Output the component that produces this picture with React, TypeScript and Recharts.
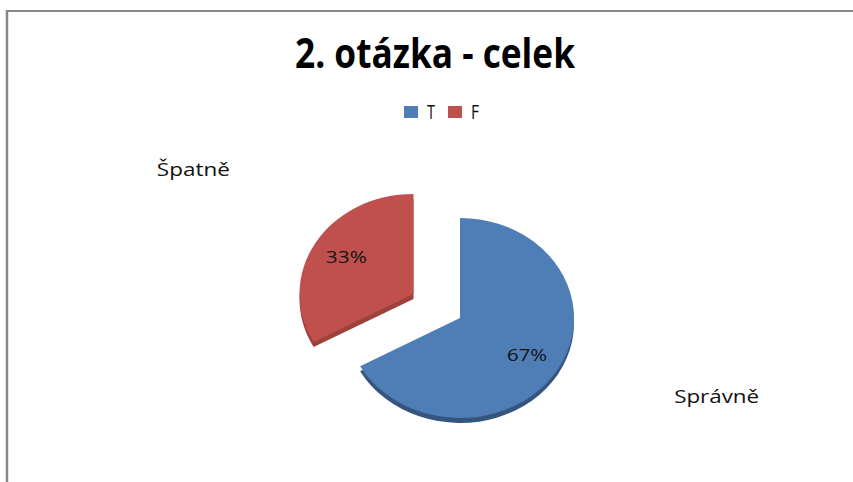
import React from 'react';
import { PieChart, Pie, Sector } from 'recharts';

// ---- data ----
const categories = ['T', 'F'];
const values = [67, 33];
const sliceNames = ['Správně', 'Špatně'];
const chartTitle = '2. otázka - celek';

// ---- style ----
const colors = ['#4F7EB7', '#BF504D'];
const rimColors = ['#34557E', '#9E403C'];
const W = 853;
const H = 482;
const CX = 460;
const CY = 318;
const R = 114;
const SY = 100 / 114;
const DEPTH = 5;
const EXPLODE = [0, 54];
const RAD = Math.PI / 180;
const FONT = '"Open Sans", "Noto Sans", sans-serif';
const PCT_WIDTH = [40, 41];
const NAME_WIDTH = [85, 73];
const OUTER_NUDGE = [
  { dx: -5, dy: -57 },
  { dx: -5, dy: -12 },
];

const data = categories.map((c, i) => ({ name: c, value: values[i] }));

const idxOf = (p: any) => {
  const n = p?.payload?.name ?? p?.name;
  const i = categories.indexOf(n);
  return i < 0 ? (p?.index ?? 0) : i;
};

const offsetFor = (i: number, midAngle: number) => {
  const e = EXPLODE[i] || 0;
  return {
    ox: e * Math.cos(-midAngle * RAD),
    oy: e * Math.sin(-midAngle * RAD) * SY,
  };
};

const SliceShape = (props: any) => {
  const { cx, cy, innerRadius, outerRadius, startAngle, endAngle, midAngle } = props;
  const i = idxOf(props);
  const { ox, oy } = offsetFor(i, midAngle);
  const tf = (dy: number) =>
    `translate(${cx + ox} ${cy + oy + dy}) scale(1 ${SY}) translate(${-cx} ${-cy})`;
  return (
    <g>
      <g transform={tf(DEPTH)}>
        <Sector cx={cx} cy={cy} innerRadius={innerRadius} outerRadius={outerRadius}
          startAngle={startAngle} endAngle={endAngle} fill={rimColors[i]} stroke="none" />
      </g>
      <g transform={tf(0)}>
        <Sector cx={cx} cy={cy} innerRadius={innerRadius} outerRadius={outerRadius}
          startAngle={startAngle} endAngle={endAngle} fill={colors[i]} stroke="none" />
      </g>
    </g>
  );
};

const renderLabel = (p: any) => {
  const i = idxOf(p);
  const { ox, oy } = offsetFor(i, p.midAngle);
  const cos = Math.cos(-p.midAngle * RAD);
  const sin = Math.sin(-p.midAngle * RAD);
  const ix = p.cx + ox + cos * 78;
  const iy = p.cy + oy + sin * 78 * 0.93;
  const nx = p.cx + cos * 304 + OUTER_NUDGE[i].dx;
  const ny = p.cy + sin * 304 * SY + OUTER_NUDGE[i].dy;
  return (
    <g>
      <text x={ix} y={iy + 6} textAnchor="middle" fontFamily={FONT} fontSize={17}
        fill="#111" textLength={PCT_WIDTH[i]} lengthAdjust="spacingAndGlyphs">
        {`${Math.round(p.percent * 100)}%`}
      </text>
      <text x={nx} y={ny + 6} textAnchor="middle" fontFamily={FONT} fontSize={18}
        fill="#111" textLength={NAME_WIDTH[i]} lengthAdjust="spacingAndGlyphs">
        {sliceNames[i]}
      </text>
    </g>
  );
};

export default function App() {
  return (
    <div style={{ position: 'absolute', left: 0, top: 0, width: W, height: H, background: '#fff' }}>
      <PieChart width={W} height={H} margin={{ top: 0, right: 0, bottom: 0, left: 0 }}>
        <Pie
          data={data}
          dataKey="value"
          nameKey="name"
          cx={CX}
          cy={CY}
          outerRadius={R}
          startAngle={90}
          endAngle={-270}
          stroke="none"
          isAnimationActive={false}
          shape={SliceShape}
          activeShape={SliceShape}
          inactiveShape={SliceShape}
          label={renderLabel}
          labelLine={false}
        />
      </PieChart>
      <svg width={W} height={H} style={{ position: 'absolute', left: 0, top: 0, pointerEvents: 'none' }}>
        <line x1={6} y1={11} x2={W} y2={11} stroke="#888" strokeWidth={2} />
        <line x1={7} y1={10} x2={7} y2={H} stroke="#888" strokeWidth={2.5} />
        <text x={435} y={68} textAnchor="middle" fontFamily={FONT} fontWeight="bold"
          fontSize={41} fill="#000" textLength={280} lengthAdjust="spacingAndGlyphs">
          {chartTitle}
        </text>
        {categories.map((c, i) => {
          const x0 = 404 + i * 44;
          return (
            <g key={c}>
              <rect x={x0} y={106} width={14} height={12} fill={colors[i]} />
              <text x={x0 + 23} y={119} fontFamily={FONT} fontSize={20} fill="#111"
                textLength={8} lengthAdjust="spacingAndGlyphs">{c}</text>
            </g>
          );
        })}
      </svg>
    </div>
  );
}
